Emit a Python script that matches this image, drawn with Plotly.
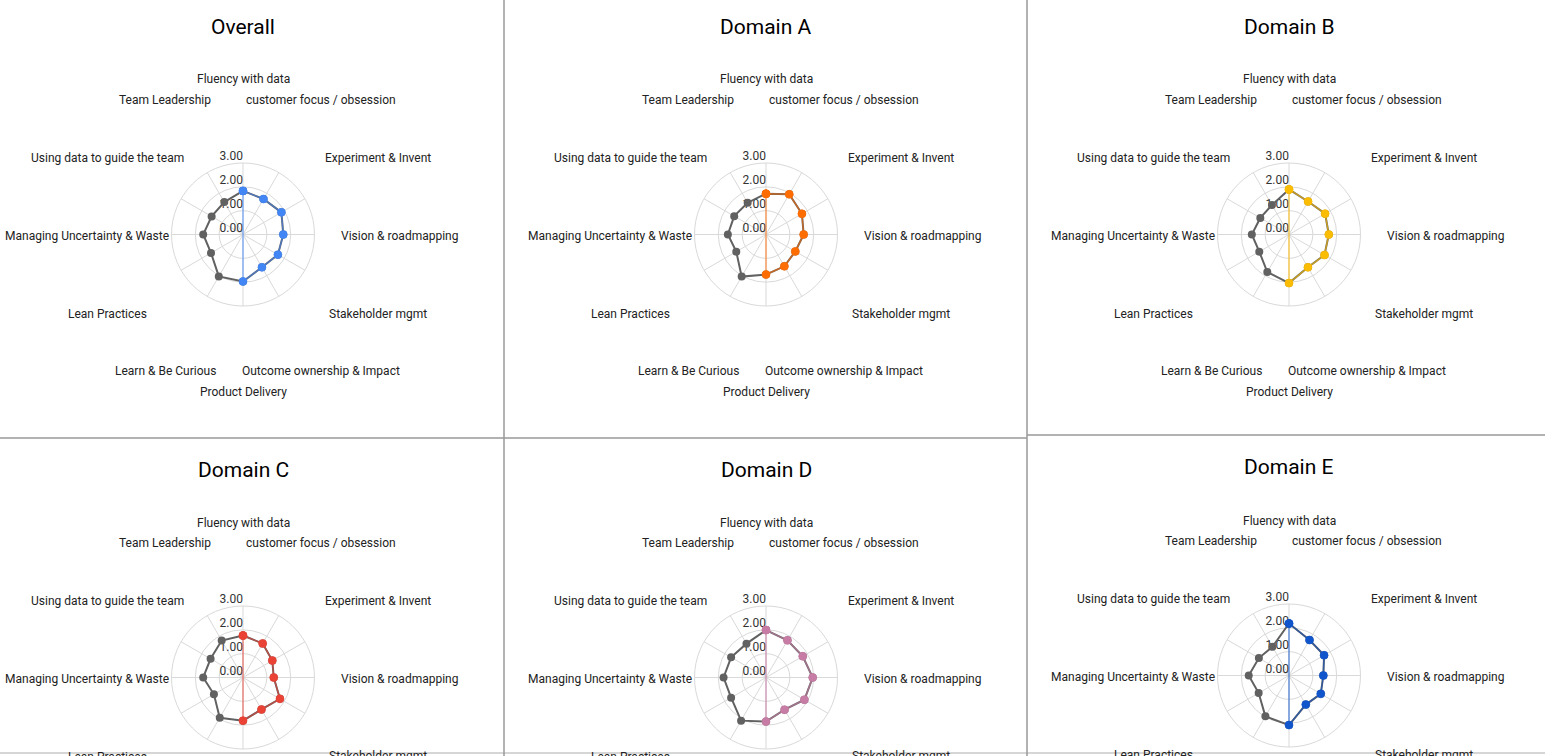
import math
import plotly.graph_objs as go

# skill categories, clockwise from the top
categories = ['Fluency with data', 'customer focus / obsession', 'Experiment & Invent',
              'Vision & roadmapping', 'Stakeholder mgmt', 'Outcome ownership & Impact',
              'Product Delivery', 'Learn & Be Curious', 'Lean Practices',
              'Managing Uncertainty & Waste', 'Using data to guide the team', 'Team Leadership']

titles = ['Overall', 'Domain A', 'Domain B', 'Domain C', 'Domain D', 'Domain E']

# average scores per category
overall = [1.83, 1.72, 1.86, 1.69, 1.69, 1.59, 1.97, 2.03, 1.55, 1.67, 1.52, 1.57]
domain_a = [1.71, 1.95, 1.74, 1.58, 1.42, 1.54, 1.68, 2.04, 1.44, 1.60, 1.54, 1.54]
domain_b = [1.89, 1.60, 1.75, 1.67, 1.72, 1.59, 2.04, 1.82, 1.44, 1.56, 1.39, 1.43]
domain_c = [1.76, 1.65, 1.42, 1.29, 1.79, 1.55, 1.81, 1.95, 1.41, 1.67, 1.57, 1.79]
domain_d = [1.99, 1.80, 1.78, 1.96, 1.86, 1.56, 1.85, 2.09, 1.69, 1.78, 1.69, 1.64]
domain_e = [2.18, 1.72, 1.70, 1.44, 1.54, 1.41, 2.08, 1.98, 1.47, 1.69, 1.46, 1.39]

radial_ticks = [0, 1, 2, 3]
radial_tick_text = ['0.00', '1.00', '2.00', '3.00']

panels = [overall, domain_a, domain_b, domain_c, domain_d, domain_e]
colors = ['#4285F4', '#FF6D01', '#FBBC04', '#EA4335', '#C77CA5', '#1155CC']
line_colors = ['rgba(66,133,244,0.6)', 'rgba(255,109,1,0.6)', 'rgba(251,188,4,0.65)',
               'rgba(234,67,53,0.6)', 'rgba(199,124,165,0.65)', 'rgba(17,85,204,0.6)']
grey = '#616161'

W, H = 1545, 756
R = 71.5  # pixel radius of the 3.00 ring
LABEL_R = 156  # pixel radius where the category names are centred
centers = [(243, 234.5), (766, 234.5), (1289, 234.5),
           (243, 677.5), (766, 677.5), (1289, 675.5)]


def dom(cx, cy):
    return dict(x=[(cx - R) / W, (cx + R) / W],
                y=[1 - (cy + R) / H, 1 - (cy - R) / H])


data = []
layout = go.Layout(width=W, height=H, margin=dict(l=0, r=0, t=0, b=0),
                   paper_bgcolor='white', showlegend=False,
                   font=dict(family='Roboto, Arial, sans-serif', size=12, color='#222222'))

annotations = []
for i, vals in enumerate(panels):
    sub = 'polar' if i == 0 else 'polar%d' % (i + 1)

    # radial tick labels, drawn under the data
    data.append(go.Scatterpolar(r=radial_ticks, theta=[categories[0]] * 4,
                                mode='text', text=radial_tick_text,
                                textposition='top left', cliponaxis=False,
                                textfont=dict(size=12, color='#333333'),
                                hoverinfo='skip', subplot=sub))
    # grey: full polygon
    data.append(go.Scatterpolar(r=vals + [vals[0]], theta=categories + [categories[0]],
                                mode='lines+markers',
                                line=dict(color=grey, width=2),
                                marker=dict(color=grey, size=8),
                                cliponaxis=False, subplot=sub))
    # coloured: right half only, left half left blank (drawn to the centre)
    right = vals[:7] + [0] * 5 + [vals[0]]
    sizes = [8] * 7 + [0] * 5 + [8]
    data.append(go.Scatterpolar(r=right, theta=categories + [categories[0]],
                                mode='lines+markers',
                                line=dict(color=line_colors[i], width=1.5),
                                marker=dict(color=colors[i], size=sizes, opacity=1),
                                cliponaxis=False, subplot=sub))

    cx, cy = centers[i]
    layout[sub] = dict(domain=dom(cx, cy), bgcolor='rgba(0,0,0,0)',
                       angularaxis=dict(type='category', categoryarray=categories,
                                        direction='clockwise', rotation=90,
                                        showticklabels=False, ticks='',
                                        gridcolor='#d9d9d9', linecolor='#d9d9d9',
                                        showline=True, linewidth=1),
                       radialaxis=dict(range=[0, 3], tickvals=radial_ticks,
                                       showticklabels=False, ticks='',
                                       gridcolor='#d9d9d9', showline=False, angle=90))

    ty = 27 if i < 3 else (470 if i < 5 else 467)
    annotations.append(dict(text=titles[i], x=cx / W, y=1 - ty / H, xref='paper', yref='paper',
                            xanchor='center', yanchor='middle', showarrow=False,
                            font=dict(size=21, color='#000000')))

    # category names, centred on a ring outside the chart
    for k, cat in enumerate(categories):
        a = math.radians(k * 360 / len(categories))
        lx = cx + LABEL_R * math.sin(a)
        ly = cy - LABEL_R * math.cos(a) + 1
        annotations.append(dict(text=cat, x=lx / W, y=1 - ly / H, xref='paper', yref='paper',
                                xanchor='center', yanchor='middle', showarrow=False,
                                font=dict(size=12, color='#222222')))

# panel separators
sep = '#999999'
shapes = [
    dict(type='line', xref='paper', yref='paper', x0=0, x1=1, y0=1 - 753 / H, y1=1 - 753 / H,
         line=dict(color='#c8c8c8', width=1.5), layer='above'),
    dict(type='line', xref='paper', yref='paper', x0=504 / W, x1=504 / W, y0=0, y1=1,
         line=dict(color=sep, width=1.5), layer='above'),
    dict(type='line', xref='paper', yref='paper', x0=1027 / W, x1=1027 / W, y0=0, y1=1,
         line=dict(color=sep, width=1.5), layer='above'),
    dict(type='line', xref='paper', yref='paper', x0=0, x1=1027 / W, y0=1 - 438 / H, y1=1 - 438 / H,
         line=dict(color=sep, width=1.5), layer='above'),
    dict(type='line', xref='paper', yref='paper', x0=1027 / W, x1=1, y0=1 - 435 / H, y1=1 - 435 / H,
         line=dict(color=sep, width=1.5), layer='above'),
]
layout['annotations'] = annotations
layout['shapes'] = shapes

fig = go.Figure(data=data, layout=layout)
# drop the default 8px page margin so the figure sits at the window corner
fig.write_html('out.html', config={'displayModeBar': False},
               post_script="document.body.style.margin='0';")
